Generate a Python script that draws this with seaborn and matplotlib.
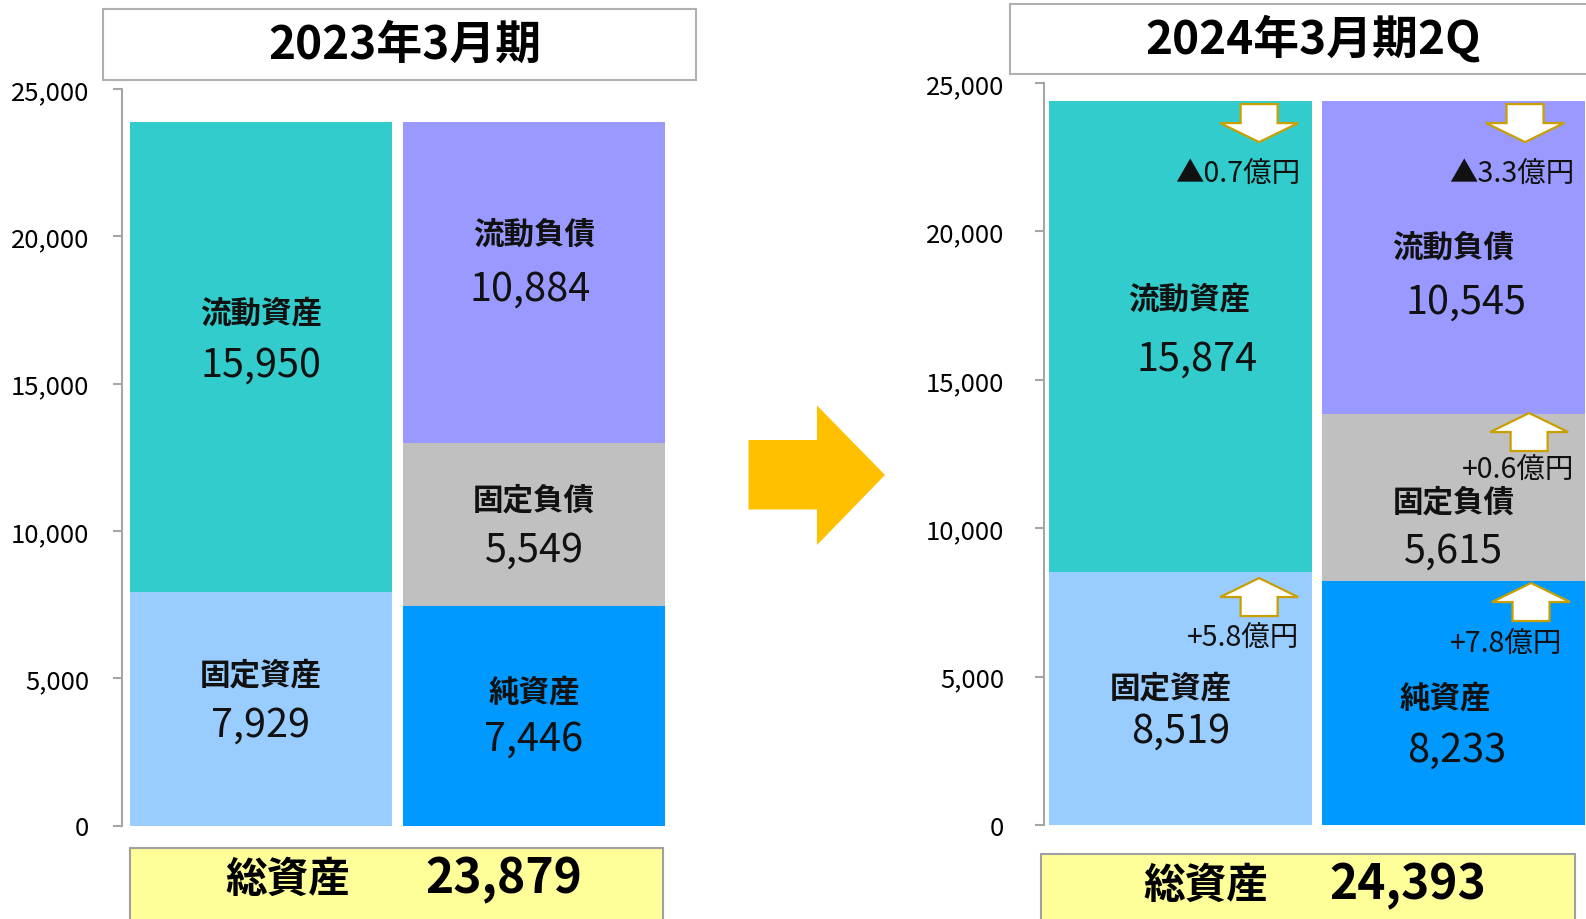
import numpy as np
import pandas as pd
import matplotlib
matplotlib.use("Agg")
import matplotlib.pyplot as plt
import matplotlib.transforms as mtransforms
from matplotlib.patches import Polygon, Rectangle
import seaborn as sns

sns.set_theme(style="white")
plt.rcParams['font.family'] = ['Noto Sans CJK JP', 'DejaVu Sans']

# ---------------- data ----------------
periods = ["2023年3月期", "2024年3月期2Q"]
sides = ["資産", "負債・純資産"]
current_assets = [15950, 15874]
fixed_assets = [7929, 8519]
current_liab = [10884, 10545]
fixed_liab = [5549, 5615]
net_assets = [7446, 8233]
total_assets = [23879, 24393]
total_label = "総資産"
yticks = [0, 5000, 10000, 15000, 20000, 25000]
seg_names = ["流動資産", "固定資産", "流動負債", "固定負債", "純資産"]
deltas = ["▲0.7億円", "+5.8億円", "▲3.3億円", "+0.6億円", "+7.8億円"]
delta_dir = ["down", "up", "down", "up", "up"]

colors = {"流動資産": "#33CCCC", "固定資産": "#99CCFF", "流動負債": "#9999FF",
          "固定負債": "#C0C0C0", "純資産": "#0099FF"}

W, H = 1586, 920
fig = plt.figure(figsize=(W / 100, H / 100), dpi=100)

def fx(px):
    return px / W

def fy(py):
    return 1 - py / H

axes_pos = [
    [fx(122), fy(826.5), 2.059 * 273 / W, (826.5 - 90) / H],
    [fx(1044), fy(826), 1.985 * 273 / W, (826 - 84) / H],
]
xlims = [(-0.509, 1.55), (-0.5, 1.485)]
tick_pads = [17, 22]

# label layout (x offset from bar center in bar units, y in value units)
label_pos = [
    {"流動資産": (0.0, 17430, 15630), "固定資産": (0.0, 5142, 3411),
     "流動負債": (1.0, 20092, 18210), "固定負債": (1.0, 11065, 9350),
     "純資産": (1.0, 4548, 2936)},
    {"流動資産": (0.03, 17755, 15700), "固定資産": (-0.035, 4632, 3167),
     "流動負債": (1.0, 19483, 17650), "固定負債": (1.0, 10899, 9231),
     "純資産": (0.97, 4300, 2550)},
]
value_dx = [
    {"流動資産": 0.0, "固定資産": 0.0, "流動負債": -0.015, "固定負債": 0.0, "純資産": 0.0},
    {"流動資産": 0.03, "固定資産": 0.035, "流動負債": 0.045, "固定負債": 0.0, "純資産": 0.04},
]
# delta annotations (right panel): arrow center x, y ; text right x, y
delta_pos = {
    "流動資産": (0.288, 23650, 0.438, 21950),
    "固定資産": (0.288, 7680, 0.434, 6290),
    "流動負債": (1.262, 23650, 1.441, 21950),
    "固定負債": (1.277, 13240, 1.441, 11980),
    "純資産": (1.284, 7513, 1.40, 6090),
}

arrow_edge = "#C9A000"

def block_arrow(ax, cx, cy, direction, w=0.78, h=0.38, sw=0.37):
    if direction == "down":
        verts = [(-sw / 2, h / 2), (sw / 2, h / 2), (sw / 2, 0), (w / 2, 0),
                 (0, -h / 2), (-w / 2, 0), (-sw / 2, 0)]
    else:
        verts = [(-sw / 2, -h / 2), (sw / 2, -h / 2), (sw / 2, 0), (w / 2, 0),
                 (0, h / 2), (-w / 2, 0), (-sw / 2, 0)]
    trans = fig.dpi_scale_trans + mtransforms.ScaledTranslation(cx, cy, ax.transData)
    ax.add_patch(Polygon(verts, closed=True, transform=trans, facecolor="white",
                         edgecolor=arrow_edge, lw=1.6, zorder=5, clip_on=False))

for p in range(2):
    ax = fig.add_axes(axes_pos[p])
    stack = [
        (sides[0], "流動資産", fixed_assets[p] + current_assets[p]),
        (sides[1], "流動負債", net_assets[p] + fixed_liab[p] + current_liab[p]),
        (sides[1], "固定負債", net_assets[p] + fixed_liab[p]),
        (sides[0], "固定資産", fixed_assets[p]),
        (sides[1], "純資産", net_assets[p]),
    ]
    stack = sorted(stack, key=lambda r: -r[2])
    for side, seg, top in stack:
        df = pd.DataFrame({"side": [side], "value": [top]})
        sns.barplot(data=df, x="side", y="value", order=sides, color=colors[seg],
                    saturation=1, width=0.963, linewidth=0, errorbar=None, ax=ax)
    ax.set_xlim(*xlims[p])
    ax.set_ylim(0, 25000)
    ax.set_xlabel("")
    ax.set_ylabel("")
    ax.set_xticks([])
    ax.set_yticks(yticks)
    ax.set_yticklabels([f"{v:,}" for v in yticks])
    for s in ["top", "right", "bottom"]:
        ax.spines[s].set_visible(False)
    ax.spines["left"].set_color("#A6A6A6")
    ax.spines["left"].set_linewidth(1.5)
    ax.tick_params(axis="y", direction="out", length=6.5, width=1.5, color="#A6A6A6",
                   pad=tick_pads[p], labelsize=18.5, labelcolor="black", left=True)
    ax.patch.set_alpha(0)

    values = {"流動資産": current_assets[p], "固定資産": fixed_assets[p],
              "流動負債": current_liab[p], "固定負債": fixed_liab[p], "純資産": net_assets[p]}
    for seg in seg_names:
        x, yl, yv = label_pos[p][seg]
        ax.text(x, yl, seg, ha="center", va="center", fontsize=22, fontweight="bold",
                color="#111111", zorder=6)
        ax.text(x + value_dx[p][seg], yv, f"{values[seg]:,}", ha="center", va="center",
                fontsize=28.5, color="#111111", zorder=6)
    if p == 1:
        for seg, d, dr in zip(seg_names, deltas, delta_dir):
            ax_, ay, tx, ty = delta_pos[seg]
            block_arrow(ax, ax_, ay, dr)
            ax.text(tx, ty, d, ha="right", va="center", fontsize=20.5, color="#111111", zorder=6)

# title boxes
title_boxes = [(103, 10, 696, 81), (1009.5, 5, 1590, 75)]
title_x = [400, 1298]
for (x0, y0, x1, y1), t, tx in zip(title_boxes, periods, title_x):
    fig.patches.append(Rectangle((fx(x0), fy(y1)), fx(x1 - x0), (y1 - y0) / H,
                                 transform=fig.transFigure, facecolor="white",
                                 edgecolor="#B0B0B0", lw=1.5, zorder=1))
    fig.text(fx(tx * 1586 / 1568), fy((y0 + y1) / 2), t,
             ha="center", va="center", fontsize=33, fontweight="bold", color="black")

# total boxes
total_boxes = [(129.5, 849, 663.5, 925), (1041, 855, 1574.5, 925)]
total_text_x = [(288, 504), (1206, 1408)]
total_text_y = [880, 885.6]
for i, (x0, y0, x1, y1) in enumerate(total_boxes):
    fig.patches.append(Rectangle((fx(x0), fy(y1)), fx(x1 - x0), (y1 - y0) / H,
                                 transform=fig.transFigure, facecolor="#FFFF99",
                                 edgecolor="#A0A0A0", lw=1.5, zorder=1))
    fig.text(fx(total_text_x[i][0]), fy(total_text_y[i]), total_label, ha="center",
             va="center", fontsize=30, fontweight="bold", color="black")
    fig.text(fx(total_text_x[i][1]), fy(total_text_y[i]), f"{total_assets[i]:,}",
             ha="center", va="center", fontsize=34.5, fontweight="bold", color="black")

# big transition arrow
big = [(748.5, 441), (817, 441), (817, 406.5), (885, 476), (817, 546), (817, 510.5), (748.5, 510.5)]
fig.patches.append(Polygon([(fx(x), fy(y)) for x, y in big], closed=True,
                           transform=fig.transFigure, facecolor="#FFC000", edgecolor="none"))

fig.savefig("out.png", dpi=100)
